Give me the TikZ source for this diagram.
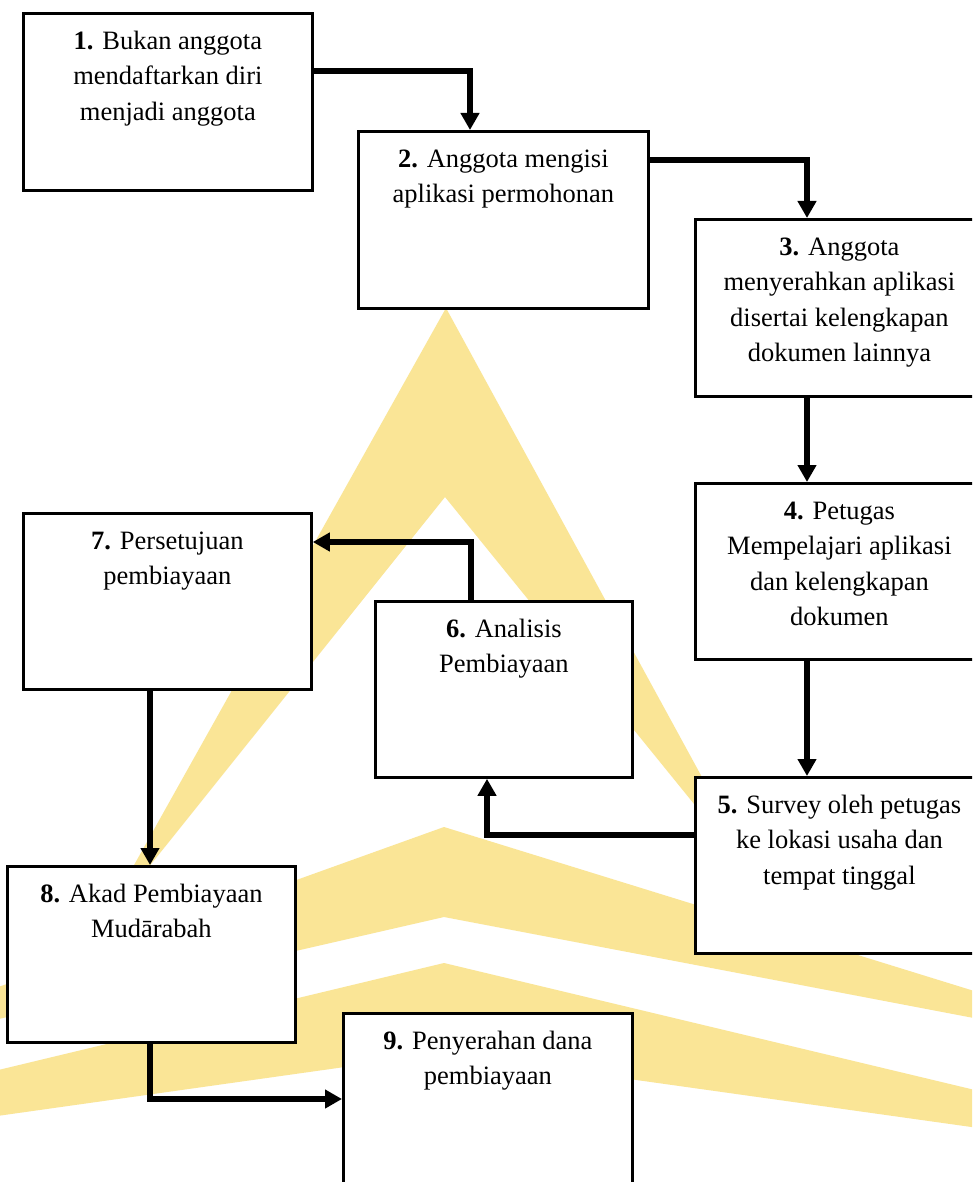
\documentclass[tikz,border=0pt]{standalone}
\usepackage{fontspec}
\setmainfont{Liberation Serif}
\usetikzlibrary{arrows.meta}
\definecolor{wmyellow}{RGB}{250,229,150}
\newcommand{\boxtxt}[3]{\begin{minipage}[t][#2][t]{#1}\centering\fontsize{26.5pt}{35.5pt}\selectfont\rule{0pt}{36pt}#3\end{minipage}}
\tikzset{
  stepbox/.style={draw=black, line width=2.8pt, fill=white, inner sep=0pt, anchor=north west},
  arr/.style={line width=5.5pt, -{Triangle[width=18pt,length=17pt]}},
  wm/.style={fill=wmyellow, draw=none}
}
\begin{document}
\begin{tikzpicture}[x=1pt,y=-1pt]
\useasboundingbox (0,0) rectangle (972,1182);
\fill[white] (0,0) rectangle (972,1182);
\clip (0,0) rectangle (972,1182);
% watermark
\path[wm] (446,308) -- (763,889) -- (445,497) -- (96,933) -- cycle;
\path[wm] (444,827) -- (1000,999) -- (1000,1023) -- (444,917) -- (-10,1021) -- (-10,990) -- cycle;
\path[wm] (444,963) -- (1000,1096) -- (1000,1131) -- (444,1053) -- (-10,1117) -- (-10,1072) -- cycle;
% boxes
\node[stepbox] (b1) at (22,12) {\boxtxt{289pt}{177pt}{\textbf{1.} Bukan anggota\\ mendaftarkan diri\\ menjadi anggota}};
\node[stepbox] (b2) at (357,130) {\boxtxt{290pt}{177pt}{\textbf{2.} Anggota mengisi\\ aplikasi permohonan}};
\node[stepbox] (b3) at (694,218) {\boxtxt{288pt}{177pt}{\textbf{3.} Anggota\\ menyerahkan aplikasi\\ disertai kelengkapan\\ dokumen lainnya}};
\node[stepbox] (b4) at (694,482) {\boxtxt{288pt}{176pt}{\textbf{4.} Petugas\\ Mempelajari aplikasi\\ dan kelengkapan\\ dokumen}};
\node[stepbox] (b5) at (694,776) {\boxtxt{288pt}{176pt}{\textbf{5.} Survey oleh petugas\\ ke lokasi usaha dan\\ tempat tinggal}};
\node[stepbox] (b6) at (374,600) {\boxtxt{257pt}{176pt}{\textbf{6.} Analisis\\ Pembiayaan}};
\node[stepbox] (b7) at (22,512) {\boxtxt{288pt}{176pt}{\textbf{7.} Persetujuan\\ pembiayaan}};
\node[stepbox] (b8) at (6,865) {\boxtxt{288pt}{176pt}{\textbf{8.} Akad Pembiayaan\\ Mud\={a}rabah}};
\node[stepbox] (b9) at (342,1012) {\boxtxt{289pt}{177pt}{\textbf{9.} Penyerahan dana\\ pembiayaan}};
% connectors
\draw[arr] (b1.east |- 0,71) -| (b2.north -| 470,0);
\draw[arr] (b2.east |- 0,160) -| (b3.north -| 807,0);
\draw[arr] (b3.south -| 807,0) -- (b4.north -| 807,0);
\draw[arr] (b4.south -| 807,0) -- (b5.north -| 807,0);
\draw[arr] (b5.west |- 0,835) -| (b6.south -| 487,0);
\draw[arr] (b6.north -| 471,0) |- (b7.east |- 0,542);
\draw[arr] (b7.south -| 150,0) -- (b8.north -| 150,0);
\draw[arr] (b8.south -| 150,0) |- (b9.west |- 0,1099);
\end{tikzpicture}
\end{document}
